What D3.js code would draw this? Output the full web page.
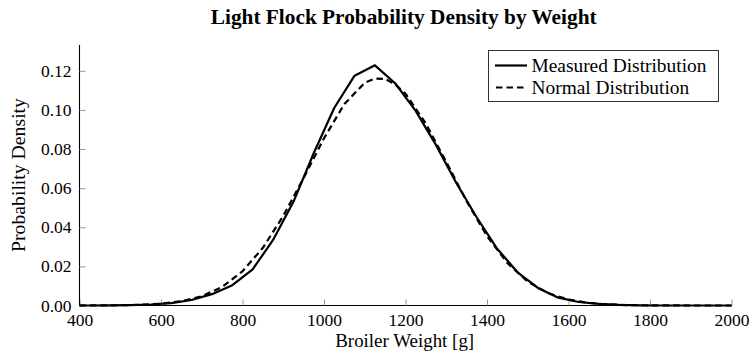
<!DOCTYPE html>
<html>
<head>
<meta charset="utf-8">
<script src="https://cdn.jsdelivr.net/npm/d3@7"></script>
<style>
  body { margin: 0; background: #fff; }
  svg { display: block; }
  svg text { font-family: "Liberation Serif", "DejaVu Serif", serif !important; fill: #000; }
</style>
</head>
<body>
<svg id="chart" width="750" height="356"></svg>
<script>
// ---- data ----
const measuredWeights = [400, 425, 475, 525, 575, 625, 675, 725, 775, 825, 875, 925, 975, 1025, 1075, 1125,
  1175, 1225, 1275, 1325, 1375, 1425, 1475, 1525, 1575, 1625, 1675, 1725, 1775, 1825, 1875, 1925, 1975, 2000];
const measuredDensity = [0.0000, 0.0000, 0.0001, 0.0002, 0.0005, 0.0012, 0.0028, 0.0058, 0.0104, 0.0185, 0.0335,
  0.0530, 0.0780, 0.1010, 0.1175, 0.1228, 0.1135, 0.0995, 0.0820, 0.0625, 0.0450, 0.0290, 0.0170, 0.0090,
  0.0040, 0.0018, 0.0008, 0.0003, 0.0001, 0.0000, 0.0000, 0.0000, 0.0000, 0.0000];

const normalWeights = [400, 450, 500, 550, 600, 650, 700, 750, 800, 850, 900, 950, 1000, 1050, 1100, 1125, 1150,
  1175, 1200, 1250, 1300, 1350, 1400, 1450, 1500, 1550, 1600, 1650, 1700, 1750, 1800, 1850, 1900, 1950, 2000];
const normalDensity = [0.00001, 0.00004, 0.00013, 0.00036, 0.00092, 0.00217, 0.00475, 0.0095, 0.0175, 0.0295,
  0.0458, 0.0652, 0.0855, 0.1030, 0.1139, 0.1160, 0.1159, 0.1130, 0.1083, 0.0930, 0.0734, 0.0533, 0.0355,
  0.0217, 0.0122, 0.0063, 0.0030, 0.0013, 0.00053, 0.00019, 0.00007, 0.00002, 0.00001, 0.0, 0.0];

const xTicks = [400, 600, 800, 1000, 1200, 1400, 1600, 1800, 2000];
const yTicks = [0, 0.02, 0.04, 0.06, 0.08, 0.10, 0.12];
const seriesNames = ["Measured Distribution", "Normal Distribution"];
const titleText = "Light Flock Probability Density by Weight";
const xLabelText = "Broiler Weight [g]";
const yLabelText = "Probability Density";

// ---- layout ----
const svg = d3.select("#chart");
const mLeft = 79.5, mRight = 731.5, mTop = 45, mBottom = 305.5;

const x = d3.scaleLinear().domain([400, 2000]).range([mLeft, mRight]);
const y = d3.scaleLinear().domain([0, 0.1332]).range([mBottom, mTop]);

function fitWidth(sel, target) {
  const w = sel.node().getComputedTextLength();
  const fs = parseFloat(sel.attr("font-size"));
  sel.attr("font-size", (fs * target / w).toFixed(2));
}

// title
const title = svg.append("text")
  .attr("x", 403.7).attr("y", 23.5)
  .attr("text-anchor", "middle")
  .attr("font-weight", "bold")
  .attr("font-size", 16)
  .text(titleText);
fitWidth(title, 386);

// axes
const xAxis = d3.axisBottom(x).tickValues(xTicks).tickSize(-6).tickPadding(9).tickFormat(d3.format("d"));
const gx = svg.append("g").attr("transform", `translate(0,${mBottom})`).call(xAxis);
const yAxis = d3.axisLeft(y).tickValues(yTicks).tickSize(-6).tickPadding(9).tickFormat(d3.format(".2f"));
const gy = svg.append("g").attr("transform", `translate(${mLeft},0)`).call(yAxis);

gx.select(".domain").attr("stroke", "#000").attr("stroke-width", 1.1).attr("d", `M${mLeft},0H${mRight}`);
gy.select(".domain").attr("stroke", "#000").attr("stroke-width", 1.1).attr("d", `M0,${mBottom}V${mTop}`);
[gx, gy].forEach(g => {
  g.attr("font-family", null).attr("font-size", null);
  g.selectAll(".tick line").attr("stroke", "#999").attr("stroke-width", 1);
  g.selectAll(".tick text")
    .style("font-family", "'Liberation Serif', serif")
    .style("font-size", "17.5px")
    .attr("fill", "#000");
});
gx.selectAll(".tick text").attr("dy", "0.72em").attr("y", 8);
gy.selectAll(".tick text").attr("x", -8);

// axis labels
const xl = svg.append("text")
  .attr("x", 404.7).attr("y", 346.5)
  .attr("text-anchor", "middle")
  .attr("font-size", 16)
  .text(xLabelText);
fitWidth(xl, 139);

const yl = svg.append("text")
  .attr("transform", "translate(25,175) rotate(-90)")
  .attr("text-anchor", "middle")
  .attr("font-size", 16)
  .text(yLabelText);
fitWidth(yl, 154);

// lines
const plot = svg.append("g");
const line = d3.line().x(d => x(d[0])).y(d => y(d[1]));

const measured = measuredWeights.map((w, i) => [w, measuredDensity[i]]);
const normal = normalWeights.map((w, i) => [w, normalDensity[i]]);

plot.append("path").datum(normal)
  .attr("fill", "none").attr("stroke", "#000").attr("stroke-width", 2.2)
  .attr("stroke-dasharray", "6.5,4").attr("stroke-linejoin", "round")
  .attr("d", line);

plot.append("path").datum(measured)
  .attr("fill", "none").attr("stroke", "#000").attr("stroke-width", 2.2)
  .attr("stroke-linejoin", "round")
  .attr("d", line);

// legend
const lg = svg.append("g");
lg.append("rect")
  .attr("x", 488.5).attr("y", 50.5).attr("width", 230).attr("height", 51)
  .attr("fill", "#fff").attr("stroke", "#333").attr("stroke-width", 1);
const rows = [{ name: seriesNames[0], dash: null, cy: 65.5 }, { name: seriesNames[1], dash: "6.5,4", cy: 87.5 }];
rows.forEach(r => {
  const l = lg.append("line")
    .attr("x1", 495).attr("x2", 527).attr("y1", r.cy).attr("y2", r.cy)
    .attr("stroke", "#000").attr("stroke-width", 2.2);
  if (r.dash) l.attr("stroke-dasharray", r.dash).attr("stroke-dashoffset", -1);
  const t = lg.append("text")
    .attr("x", 531.5).attr("y", r.cy).attr("dy", "0.33em")
    .attr("font-size", 16)
    .text(r.name);
  if (r.name === seriesNames[0]) fitWidth(t, 175);
});
const legendTexts = lg.selectAll("text");
const fs0 = legendTexts.nodes()[0].getAttribute("font-size");
legendTexts.attr("font-size", fs0);
</script>
</body>
</html>
